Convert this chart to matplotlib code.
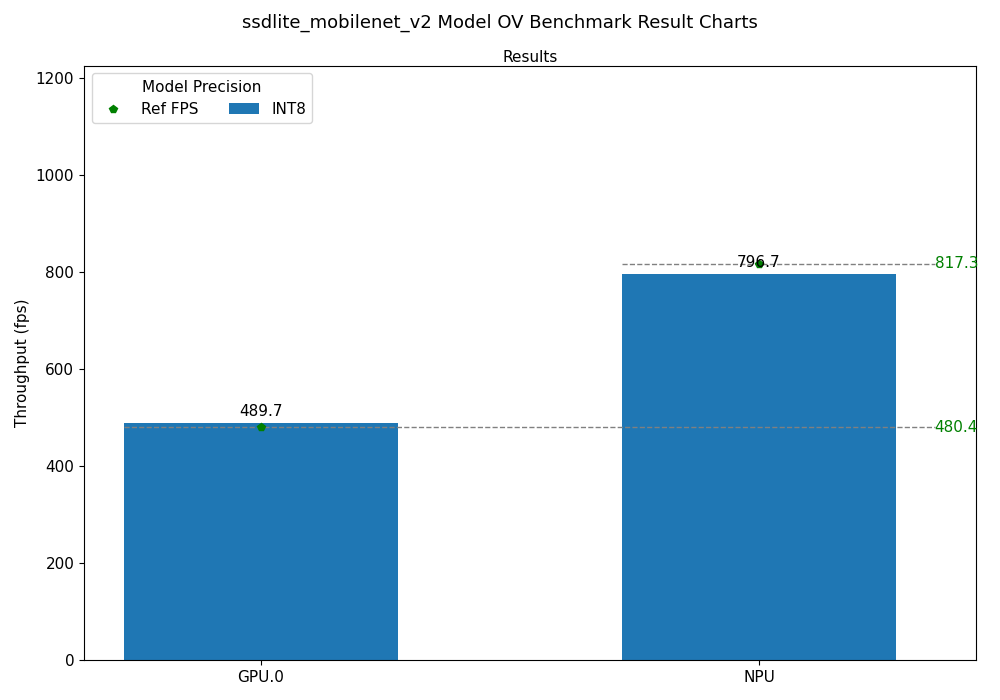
import matplotlib
matplotlib.use("Agg")
import matplotlib.pyplot as plt
import numpy as np

devices = ["GPU.0", "NPU"]
int8_fps = [489.7, 796.7]
ref_fps = [480.4, 817.3]

plt.rcParams['font.size'] = 11

fig, ax = plt.subplots(figsize=(10, 7), dpi=100)
fig.subplots_adjust(left=0.084, right=0.976, top=0.906, bottom=0.057)

x = np.arange(len(devices))
width = 0.55
bars = ax.bar(x, int8_fps, width, color="#1f77b4", label="INT8")
ax.bar_label(bars, labels=[f"{v:.1f}" for v in int8_fps], padding=3)

xr = 1.3525
for i, r in enumerate(ref_fps):
    ax.hlines(r, x[i] - width / 2, xr, colors="gray", linestyles="--", linewidth=1)
    ax.text(xr, r, f"{r:.1f}", color="green", va="center", ha="left", clip_on=False)
ax.plot(x, ref_fps, "p", color="green", markersize=6, linestyle="none", label="Ref FPS")

ax.set_xlim(-0.3545, 1.4355)
ax.set_ylim(0, max(ref_fps) * 1.5)
ax.set_xticks(x)
ax.set_xticklabels(devices)
ax.set_ylabel("Throughput (fps)")
ax.set_title("Results", fontsize=11, pad=3)
fig.suptitle("ssdlite_mobilenet_v2 Model OV Benchmark Result Charts", fontsize=13)
ax.legend(title="Model Precision", ncol=2, loc="upper left")

fig.savefig("out.png", dpi=100)
